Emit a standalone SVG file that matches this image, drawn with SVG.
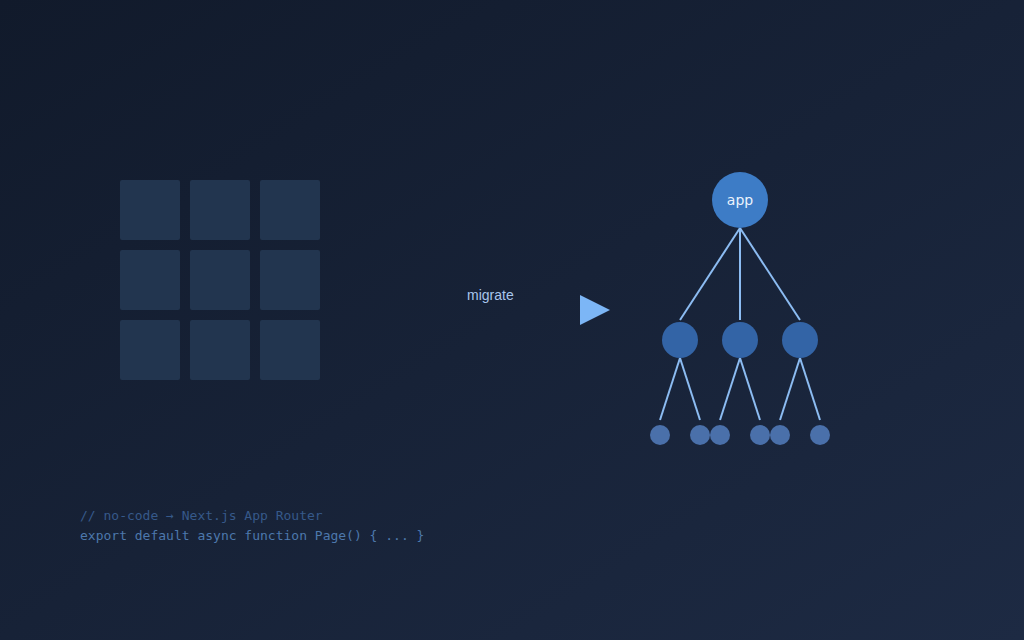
<svg xmlns="http://www.w3.org/2000/svg" width="1024" height="640" viewBox="0 0 1024 640">
  <defs>
    <linearGradient id="bg" x1="0" y1="0" x2="1" y2="1">
      <stop offset="0" stop-color="#111a2b"/>
      <stop offset="1" stop-color="#1d2a43"/>
    </linearGradient>
    <style>
      .tile { fill: #22354f; }
      .edge { stroke: #8cbcf2; stroke-width: 2; fill: none; }
      .root { fill: #3d7cc6; }
      .mid { fill: #3364a6; }
      .leaf { fill: #4a70aa; }
      .code { font-family: "DejaVu Sans Mono", monospace; font-size: 13px; }
    </style>
  </defs>
  <rect width="1024" height="640" fill="url(#bg)"/>

  <g id="grid">
    <rect class="tile" x="120" y="180" width="60" height="60" rx="2"/>
    <rect class="tile" x="190" y="180" width="60" height="60" rx="2"/>
    <rect class="tile" x="260" y="180" width="60" height="60" rx="2"/>
    <rect class="tile" x="120" y="250" width="60" height="60" rx="2"/>
    <rect class="tile" x="190" y="250" width="60" height="60" rx="2"/>
    <rect class="tile" x="260" y="250" width="60" height="60" rx="2"/>
    <rect class="tile" x="120" y="320" width="60" height="60" rx="2"/>
    <rect class="tile" x="190" y="320" width="60" height="60" rx="2"/>
    <rect class="tile" x="260" y="320" width="60" height="60" rx="2"/>
  </g>

  <g id="migrate">
    <text x="467" y="300" font-family="Liberation Sans, Arial, sans-serif" font-size="14" fill="#a9c6ec">migrate</text>
    <polygon points="580,295 610,310 580,325" fill="#7cb6f6"/>
  </g>

  <g id="connectors">
    <line class="edge" x1="740" y1="228" x2="680" y2="320"/>
    <line class="edge" x1="740" y1="228" x2="740" y2="320"/>
    <line class="edge" x1="740" y1="228" x2="800" y2="320"/>
    <line class="edge" x1="680" y1="358" x2="660" y2="420"/>
    <line class="edge" x1="680" y1="358" x2="700" y2="420"/>
    <line class="edge" x1="740" y1="358" x2="720" y2="420"/>
    <line class="edge" x1="740" y1="358" x2="760" y2="420"/>
    <line class="edge" x1="800" y1="358" x2="780" y2="420"/>
    <line class="edge" x1="800" y1="358" x2="820" y2="420"/>
  </g>

  <g id="node-app">
    <circle class="root" cx="740" cy="200" r="28"/>
    <text x="740" y="205" text-anchor="middle" font-family="DejaVu Sans, sans-serif" font-size="14" fill="#eaf2fc">app</text>
  </g>
  <g id="node-mid1"><circle class="mid" cx="680" cy="340" r="18"/></g>
  <g id="node-mid2"><circle class="mid" cx="740" cy="340" r="18"/></g>
  <g id="node-mid3"><circle class="mid" cx="800" cy="340" r="18"/></g>
  <g id="node-leaf1"><circle class="leaf" cx="660" cy="435" r="10"/></g>
  <g id="node-leaf2"><circle class="leaf" cx="700" cy="435" r="10"/></g>
  <g id="node-leaf3"><circle class="leaf" cx="720" cy="435" r="10"/></g>
  <g id="node-leaf4"><circle class="leaf" cx="760" cy="435" r="10"/></g>
  <g id="node-leaf5"><circle class="leaf" cx="780" cy="435" r="10"/></g>
  <g id="node-leaf6"><circle class="leaf" cx="820" cy="435" r="10"/></g>

  <g id="code">
    <text class="code" x="80" y="520" fill="#36598a">// no-code → Next.js App Router</text>
    <text class="code" x="80" y="540" fill="#4d78ac">export default async function Page() { ... }</text>
  </g>
</svg>
